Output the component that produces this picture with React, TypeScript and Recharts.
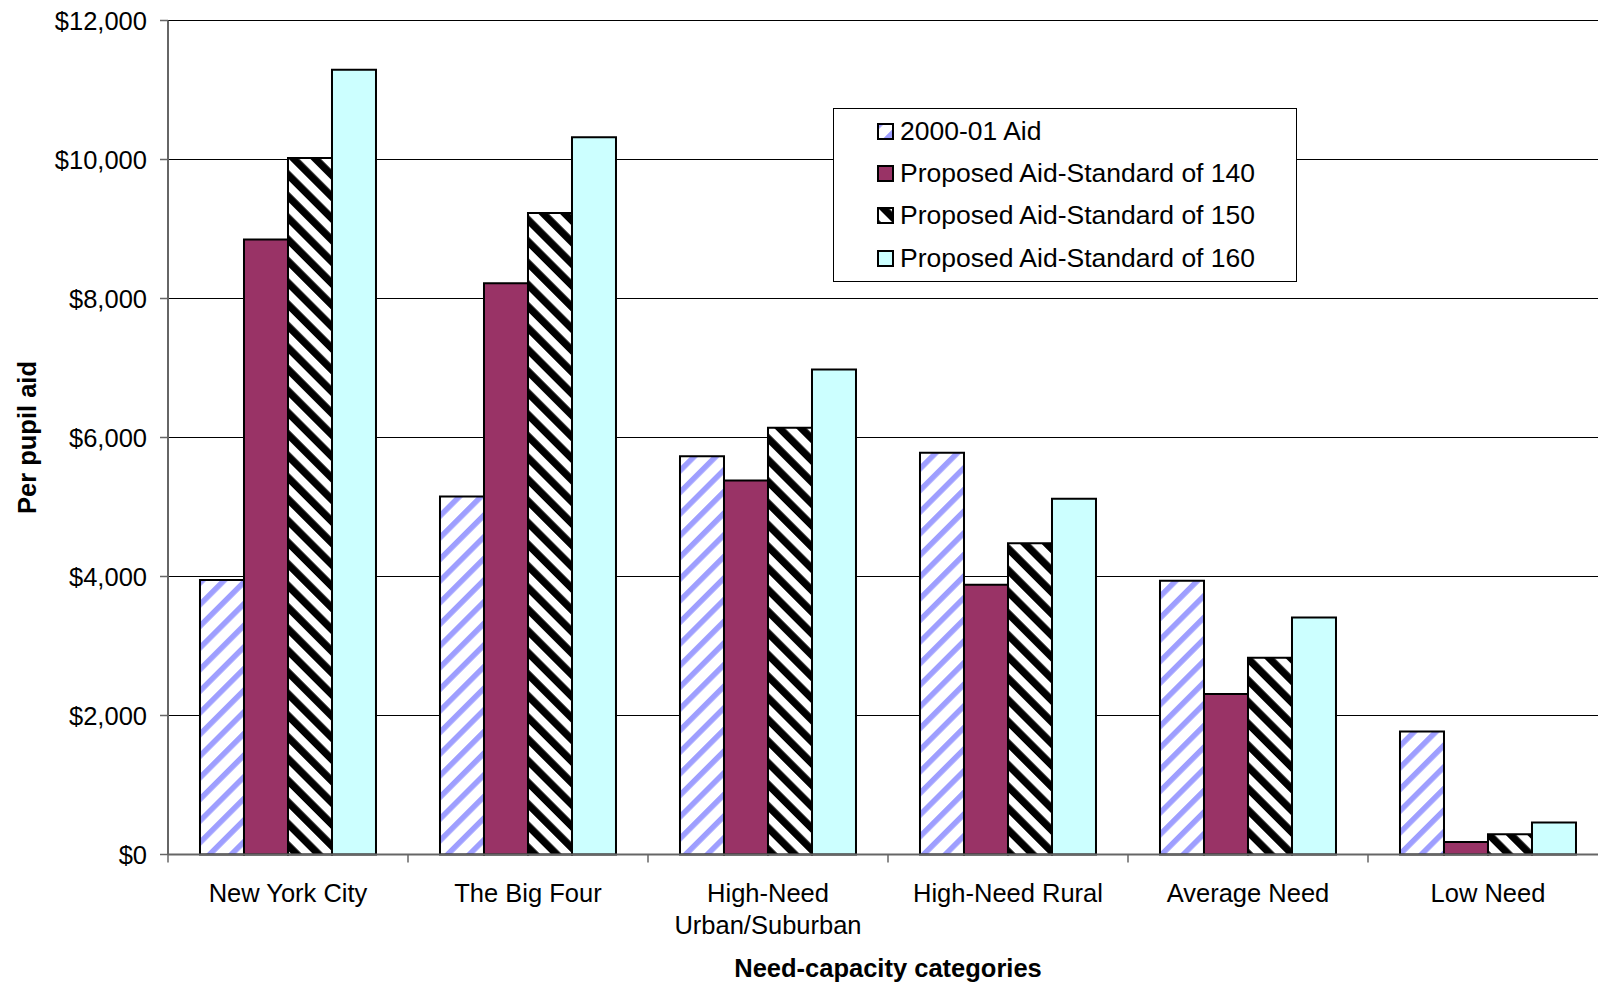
import React from 'react';
import { BarChart, Bar, XAxis, YAxis, CartesianGrid, Legend, Label } from 'recharts';

const categories = [
  'New York City',
  'The Big Four',
  'High-Need\nUrban/Suburban',
  'High-Need Rural',
  'Average Need',
  'Low Need',
];
const aid2000 = [3950, 5150, 5730, 5780, 3940, 1770];
const standard140 = [8850, 8220, 5380, 3880, 2310, 180];
const standard150 = [10020, 9230, 6140, 4480, 2830, 290];
const standard160 = [11290, 10320, 6980, 5120, 3410, 460];
const yTicks = [0, 2000, 4000, 6000, 8000, 10000, 12000];

const series = [
  { key: 'aid2000', name: '2000-01 Aid', fill: 'url(#aidStripes)' },
  { key: 'standard140', name: 'Proposed Aid-Standard of 140', fill: '#993366' },
  { key: 'standard150', name: 'Proposed Aid-Standard of 150', fill: 'url(#blackHatch)' },
  { key: 'standard160', name: 'Proposed Aid-Standard of 160', fill: '#ccffff' },
];

const data = categories.map((category, i) => ({
  category,
  aid2000: aid2000[i],
  standard140: standard140[i],
  standard150: standard150[i],
  standard160: standard160[i],
}));

const FONT = '"Liberation Sans", Arial, Helvetica, sans-serif';
const AXIS_GRAY = '#666';

const formatDollars = (v: number) => `$${v.toLocaleString('en-US')}`;

// category labels centred in the band, tick marks on the band edges
const CategoryTick = (props: any) => {
  const { x, y, payload, index } = props;
  const half = payload.offset ?? 0;
  const lines = String(payload.value).split('\n');
  return (
    <g>
      <line x1={x - half} y1={y - 8} x2={x - half} y2={y} stroke={AXIS_GRAY} strokeWidth={1.5} />
      {index === categories.length - 1 && (
        <line x1={x + half} y1={y - 8} x2={x + half} y2={y} stroke={AXIS_GRAY} strokeWidth={1.5} />
      )}
      <text x={x} y={y + 39} textAnchor="middle" fontSize={25.5} fill="#000" fontFamily={FONT}>
        {lines.map((line, i) => (
          <tspan key={i} x={x} dy={i === 0 ? 0 : 32}>
            {line}
          </tspan>
        ))}
      </text>
    </g>
  );
};

const LegendBox = () => (
  <div
    style={{
      boxSizing: 'border-box',
      width: '100%',
      height: '100%',
      border: '1px solid #000',
      background: '#fff',
      paddingTop: 1,
      fontFamily: FONT,
    }}
  >
    {series.map((s) => (
      <div key={s.key} style={{ height: 42.4, display: 'flex', alignItems: 'center' }}>
        <svg width={17} height={17} style={{ marginLeft: 43, marginRight: 6, flex: 'none' }}>
          <rect x={1} y={1} width={15} height={15} fill={s.fill} stroke="#000" strokeWidth={2} />
        </svg>
        <span style={{ fontSize: 26.5, color: '#000', whiteSpace: 'nowrap' }}>{s.name}</span>
      </div>
    ))}
  </div>
);

export default function App() {
  return (
    <div
      style={{
        position: 'absolute',
        left: 0,
        top: 0,
        width: 1598,
        height: 985,
        overflow: 'hidden',
        background: '#fff',
      }}
    >
      <BarChart
        width={1610}
        height={985}
        data={data}
        margin={{ top: 20.5, right: 2, bottom: 0, left: 0 }}
        barCategoryGap="13.33%"
        barGap={0}
        style={{ fontFamily: FONT }}
      >
        <defs>
          <pattern id="aidStripes" patternUnits="userSpaceOnUse" width={15.3} height={15.3} patternTransform="rotate(45)">
            <rect width={15.3} height={15.3} fill="#fff" />
            <rect width={5.5} height={15.3} fill="#9e9eff" />
          </pattern>
          <pattern id="blackHatch" patternUnits="userSpaceOnUse" width={15.3} height={15.3} patternTransform="rotate(-45)">
            <rect width={15.3} height={15.3} fill="#fff" />
            <rect width={7.4} height={15.3} fill="#000" />
          </pattern>
        </defs>
        <CartesianGrid vertical={false} stroke="#000" strokeWidth={1} />
        <XAxis
          dataKey="category"
          height={130.5}
          interval={0}
          tickSize={8}
          tickMargin={0}
          tickLine={false}
          tick={<CategoryTick />}
          axisLine={{ stroke: AXIS_GRAY, strokeWidth: 2 }}
        >
          <Label
            content={(props: any) => {
              const vb = props.viewBox;
              return (
                <text
                  x={vb.x + vb.width / 2}
                  y={vb.y + vb.height - 8}
                  textAnchor="middle"
                  fontSize={25.5}
                  fontWeight="bold"
                  fill="#000"
                  fontFamily={FONT}
                >
                  Need-capacity categories
                </text>
              );
            }}
          />
        </XAxis>
        <YAxis
          width={168}
          domain={[0, 12000]}
          ticks={yTicks}
          interval={0}
          tickSize={8}
          tickMargin={13}
          tickFormatter={formatDollars}
          tick={{ fontSize: 25.5, fill: '#000', fontFamily: FONT }}
          tickLine={{ stroke: AXIS_GRAY, strokeWidth: 1.5 }}
          axisLine={{ stroke: AXIS_GRAY, strokeWidth: 2 }}
        >
          <Label
            content={(props: any) => {
              const vb = props.viewBox;
              const cy = vb.y + vb.height / 2;
              return (
                <text
                  x={36}
                  y={cy}
                  transform={`rotate(-90, 36, ${cy})`}
                  textAnchor="middle"
                  fontSize={25.5}
                  fontWeight="bold"
                  fill="#000"
                  fontFamily={FONT}
                >
                  Per pupil aid
                </text>
              );
            }}
          />
        </YAxis>
        <Legend
          layout="vertical"
          align="center"
          verticalAlign="middle"
          content={<LegendBox />}
          wrapperStyle={{ left: 833, top: 108, width: 464, height: 174 }}
        />
        {series.map((s) => (
          <Bar
            key={s.key}
            dataKey={s.key}
            name={s.name}
            fill={s.fill}
            stroke="#000"
            strokeWidth={2}
            isAnimationActive={false}
          />
        ))}
      </BarChart>
    </div>
  );
}
